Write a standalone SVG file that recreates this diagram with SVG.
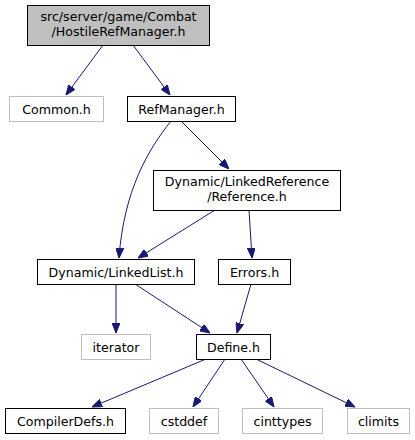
<svg xmlns="http://www.w3.org/2000/svg" width="415" height="440" viewBox="0 0 415 440">
<style>
.n{fill:#fff;stroke:#000;stroke-width:1}
.g{fill:#fff;stroke:#bfbfbf;stroke-width:1}
.t{fill:#000;font-family:"DejaVu Sans",sans-serif;font-size:12.6px;text-anchor:middle}
.e{fill:none;stroke:#191970;stroke-width:1;marker-end:url(#a)}
</style>
<defs>
<marker id="a" viewBox="0 0 10 8" refX="10" refY="4" markerWidth="10" markerHeight="8" markerUnits="userSpaceOnUse" orient="auto">
<path d="M0,0 L10,4 L0,8 Z" fill="#191970" stroke="#191970"/>
</marker>
</defs>
<g id="edges">
<path class="e" d="M103,45 L66,95"/>
<path class="e" d="M133,45 L170,95"/>
<path class="e" d="M181,121 L229,169"/>
<path class="e" d="M171,121 C148,150 124,190 119,258"/>
<path class="e" d="M215,210 L138,258"/>
<path class="e" d="M249,210 L252,258"/>
<path class="e" d="M116,284 L116,333"/>
<path class="e" d="M135,284 L210,333"/>
<path class="e" d="M251,284 L237,333"/>
<path class="e" d="M206,359 L92,407"/>
<path class="e" d="M225,359 L193,407"/>
<path class="e" d="M241,359 L274,407"/>
<path class="e" d="M256,359 L355,407"/>
</g>
<g id="hostile">
<rect x="27.5" y="5.5" width="182" height="40" fill="#bfbfbf" stroke="#000"/>
<text class="t" x="118.5" y="21">src/server/game/Combat</text>
<text class="t" x="118.5" y="36">/HostileRefManager.h</text>
</g>
<g id="common">
<rect class="g" x="9.5" y="96.5" width="94" height="25"/>
<text class="t" x="56.5" y="113.5">Common.h</text>
</g>
<g id="refmanager">
<rect class="n" x="127.5" y="96.5" width="108" height="25"/>
<text class="t" x="181.5" y="113.5">RefManager.h</text>
</g>
<g id="reference">
<rect class="n" x="153.5" y="170.5" width="187" height="40"/>
<text class="t" x="247" y="186">Dynamic/LinkedReference</text>
<text class="t" x="247" y="201">/Reference.h</text>
</g>
<g id="linkedlist">
<rect class="n" x="37.5" y="259.5" width="157" height="25"/>
<text class="t" x="116" y="276.5">Dynamic/LinkedList.h</text>
</g>
<g id="errors">
<rect class="n" x="218.5" y="259.5" width="72" height="25"/>
<text class="t" x="254.5" y="276.5">Errors.h</text>
</g>
<g id="iterator">
<rect class="g" x="81.5" y="334.5" width="69" height="25"/>
<text class="t" x="116" y="351.5">iterator</text>
</g>
<g id="define">
<rect class="n" x="196.5" y="334.5" width="74" height="25" stroke="#404040"/>
<text class="t" x="233.5" y="351.5">Define.h</text>
</g>
<g id="compilerdefs">
<rect class="n" x="5.5" y="408.5" width="120" height="25"/>
<text class="t" x="65.5" y="425.5">CompilerDefs.h</text>
</g>
<g id="cstddef">
<rect class="g" x="149.5" y="408.5" width="69" height="25"/>
<text class="t" x="184" y="425.5">cstddef</text>
</g>
<g id="cinttypes">
<rect class="g" x="242.5" y="408.5" width="80" height="25"/>
<text class="t" x="282.5" y="425.5">cinttypes</text>
</g>
<g id="climits">
<rect class="g" x="347.5" y="408.5" width="62" height="25"/>
<text class="t" x="378.5" y="425.5">climits</text>
</g>
</svg>
